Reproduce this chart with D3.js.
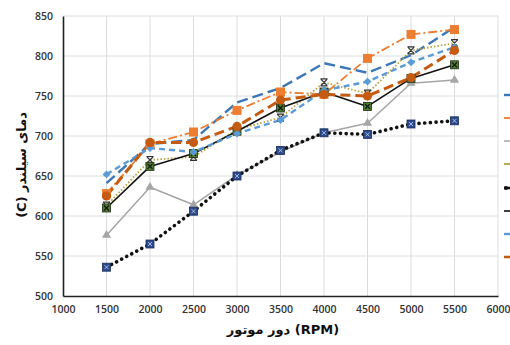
<!DOCTYPE html>
<html>
<head>
<meta charset="utf-8">
<script src="https://cdn.jsdelivr.net/npm/d3@7"></script>
<style>
  html, body { margin: 0; padding: 0; background: #fff; }
  svg { display: block; }
</style>
</head>
<body>
<svg id="chart" width="510" height="345"></svg>
<script>
// Engine speed (RPM) on x, cylinder temperature (C) on y
const rpm = [1500, 2000, 2500, 3000, 3500, 4000, 4500, 5000, 5500];
const xTicks = [1000, 1500, 2000, 2500, 3000, 3500, 4000, 4500, 5000, 5500, 6000];
const yTicks = [500, 550, 600, 650, 700, 750, 800, 850];

const seriesA = [641, 690, 695, 742, 760, 791, 779, 801, 836]; // blue long dash
const seriesB = [628, 690, 705, 732, 755, 752, 797, 827, 833]; // orange, squares
const seriesC = [576, 636, 614, 651, 680, 704, 716, 766, 770]; // gray, triangles
const seriesD = [613, 670, 674, 708, 723, 767, 753, 807, 816]; // gold dotted, stars
const seriesE = [536, 565, 606, 650, 682, 704, 702, 715, 719]; // black dots, navy squares
const seriesF = [610, 662, 678, 706, 735, 755, 737, 772, 789]; // black solid, green x
const seriesG = [652, 685, 680, 703, 720, 757, 768, 792, 811]; // light blue, diamonds
const seriesH = [625, 692, 692, 712, 745, 752, 750, 773, 807]; // brown, circles

const svg = d3.select("#chart");
const x = d3.scaleLinear().domain([1000, 6000]).range([63, 498]);
const y = d3.scaleLinear().domain([500, 850]).range([296, 16]);

// gridlines
const grid = svg.append("g");
grid.selectAll("line.v").data(xTicks.slice(1)).join("line")
  .attr("x1", d => x(d)).attr("x2", d => x(d))
  .attr("y1", y(850)).attr("y2", y(500))
  .attr("stroke", "#dcdcdc").attr("stroke-width", 1);
grid.selectAll("line.h").data(yTicks.slice(1)).join("line")
  .attr("x1", x(1000)).attr("x2", x(6000))
  .attr("y1", d => y(d)).attr("y2", d => y(d))
  .attr("stroke", "#dcdcdc").attr("stroke-width", 1);

// axes
const fontTick = "'Open Sans', 'Liberation Sans', sans-serif";
const xAxis = svg.append("g").attr("transform", `translate(0,${y(500)})`)
  .call(d3.axisBottom(x).tickValues(xTicks).tickSize(0).tickPadding(10).tickFormat(d3.format("d")));
const yAxis = svg.append("g").attr("transform", `translate(${x(1000)},0)`)
  .call(d3.axisLeft(y).tickValues(yTicks).tickSize(0).tickPadding(10).tickFormat(d3.format("d")));
[xAxis, yAxis].forEach(a => {
  a.select(".domain").attr("stroke", "#222").attr("stroke-width", 1.6);
  a.selectAll("text").attr("fill", "#333").attr("font-size", 10.5)
    .attr("font-weight", 600).attr("font-family", fontTick);
});

// series definitions
const series = [
  { v: seriesA, color: "#3b77b8", width: 2.4, dash: "11 5", marker: "none" },
  { v: seriesB, color: "#ed7d31", width: 1.8, dash: "9 3 2 3", marker: "square", fill: "#ed7d31" },
  { v: seriesC, color: "#a5a5a5", width: 1.5, dash: null, marker: "triangle", fill: "#a5a5a5" },
  { v: seriesD, color: "#b8a23a", width: 1.8, dash: "1.5 2", marker: "star", fill: "#333" },
  { v: seriesE, color: "#111", width: 3.6, dash: "0.1 5.6", cap: "round", marker: "navy", fill: "#2a4a8c" },
  { v: seriesF, color: "#111", width: 1.6, dash: null, marker: "green", fill: "#4e7d30" },
  { v: seriesG, color: "#5b9bd5", width: 2.4, dash: "6 4", marker: "diamond", fill: "#5b9bd5" },
  { v: seriesH, color: "#c55a11", width: 3, dash: "10 5", marker: "circle", fill: "#c55a11" }
];

const line = d3.line().x((d, i) => x(rpm[i])).y(d => y(d));

const plot = svg.append("g");
series.forEach(s => {
  plot.append("path")
    .attr("d", line(s.v))
    .attr("fill", "none")
    .attr("stroke", s.color)
    .attr("stroke-width", s.width)
    .attr("stroke-dasharray", s.dash)
    .attr("stroke-linecap", s.cap || "butt")
    .attr("stroke-linejoin", "round");
});

// markers
series.forEach(s => {
  const g = plot.append("g");
  s.v.forEach((v, i) => {
    const cx = x(rpm[i]), cy = y(v);
    if (s.marker === "square") {
      g.append("rect").attr("x", cx - 4.5).attr("y", cy - 4.5).attr("width", 9).attr("height", 9)
        .attr("fill", s.fill);
    } else if (s.marker === "triangle") {
      g.append("path").attr("d", d3.symbol(d3.symbolTriangle, 36)())
        .attr("transform", `translate(${cx},${cy})`).attr("fill", s.fill);
    } else if (s.marker === "star") {
      g.append("path").attr("d", `M${cx-3},${cy-3}L${cx+3},${cy+3}M${cx+3},${cy-3}L${cx-3},${cy+3}M${cx-3.5},${cy-3.5}L${cx+3.5},${cy-3.5}M${cx-3.5},${cy+3.5}L${cx+3.5},${cy+3.5}`)
        .attr("stroke", "#333").attr("stroke-width", 1.2).attr("fill", "none");
    } else if (s.marker === "navy") {
      g.append("rect").attr("x", cx - 4).attr("y", cy - 4).attr("width", 8).attr("height", 8)
        .attr("fill", s.fill).attr("stroke", "#1a2f5a").attr("stroke-width", 0.8);
      g.append("path").attr("d", `M${cx-2},${cy-2}L${cx+2},${cy+2}M${cx+2},${cy-2}L${cx-2},${cy+2}`)
        .attr("stroke", "#c9d6f0").attr("stroke-width", 0.8);
    } else if (s.marker === "green") {
      g.append("rect").attr("x", cx - 4).attr("y", cy - 4).attr("width", 8).attr("height", 8)
        .attr("fill", s.fill).attr("stroke", "#1d2e12").attr("stroke-width", 0.8);
      g.append("path").attr("d", `M${cx-2.5},${cy-2.5}L${cx+2.5},${cy+2.5}M${cx+2.5},${cy-2.5}L${cx-2.5},${cy+2.5}`)
        .attr("stroke", "#111").attr("stroke-width", 1.2);
    } else if (s.marker === "diamond") {
      g.append("path").attr("d", d3.symbol(d3.symbolDiamond2, 40)())
        .attr("transform", `translate(${cx},${cy})`).attr("fill", s.fill);
    } else if (s.marker === "circle") {
      g.append("circle").attr("cx", cx).attr("cy", cy).attr("r", 4.6).attr("fill", s.fill);
    }
  });
});

// legend swatches, clipped at the right edge
const legendY = [95, 118, 141, 164, 188, 211, 234, 257];
const legend = svg.append("g");
series.forEach((s, i) => {
  legend.append("line")
    .attr("x1", 504).attr("x2", 516)
    .attr("y1", legendY[i]).attr("y2", legendY[i])
    .attr("stroke", s.color)
    .attr("stroke-width", Math.min(s.width, 2.5));
  if (s.marker === "navy") {
    legend.append("circle").attr("cx", 506).attr("cy", legendY[i]).attr("r", 2).attr("fill", "#111");
  }
});

// axis titles
svg.append("text")
  .attr("x", 283).attr("y", 334)
  .attr("text-anchor", "middle")
  .attr("direction", "ltr")
  .attr("font-family", "'DejaVu Sans', 'Noto Sans', sans-serif")
  .attr("font-weight", "bold").attr("font-size", 13).attr("fill", "#111")
  .text("\u200Eدور موتور (RPM)");

svg.append("text")
  .attr("transform", "translate(26,165) rotate(-90)")
  .attr("text-anchor", "middle")
  .attr("direction", "ltr")
  .attr("font-family", "'DejaVu Sans', 'Noto Sans', sans-serif")
  .attr("font-weight", "bold").attr("font-size", 13).attr("fill", "#111")
  .text("\u200E(C) دمای سیلندر");
</script>
</body>
</html>
